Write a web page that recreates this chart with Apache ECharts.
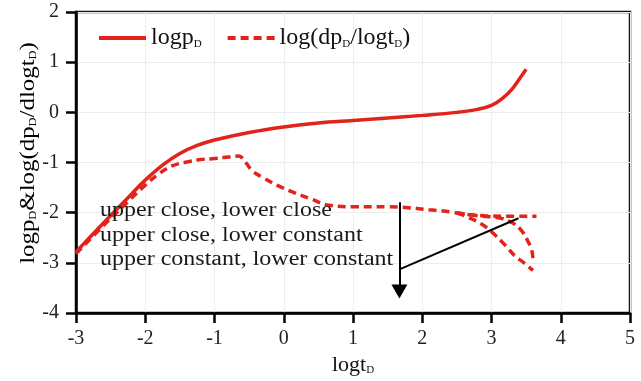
<!DOCTYPE html>
<html>
<head>
<meta charset="utf-8">
<script src="https://cdn.jsdelivr.net/npm/echarts@6/dist/echarts.min.js"></script>
<style>
  html, body { margin: 0; padding: 0; background: #fff; }
  #chart { width: 641px; height: 381px; }
</style>
</head>
<body>
<div id="chart"></div>
<script>
// logpD curve
var pX = [-3, -2.6, -2.2, -2, -1.75, -1.5, -1.25, -1, -0.5, 0, 0.5, 1, 1.5, 2, 2.5, 2.8, 3.0, 3.15, 3.3, 3.42, 3.5];
var pY = [-2.78, -2.2, -1.63, -1.35, -1.05, -0.82, -0.66, -0.55, -0.4, -0.29, -0.21, -0.16, -0.11, -0.06, 0.0, 0.06, 0.14, 0.27, 0.47, 0.7, 0.86];

// log(dpD/logtD) - common part + flat branch
var dX = [-3, -2.6, -2.25, -2.0, -1.8, -1.6, -1.4, -1.2, -1.0, -0.8, -0.65, -0.55, -0.45, -0.3, -0.1, 0.15, 0.4, 0.65, 1.0, 1.5, 1.8, 2.1, 2.4, 2.6, 2.9, 3.2, 3.65];
var dY = [-2.82, -2.25, -1.78, -1.45, -1.22, -1.06, -0.99, -0.94, -0.92, -0.89, -0.87, -1.0, -1.17, -1.3, -1.45, -1.6, -1.73, -1.85, -1.88, -1.88, -1.9, -1.94, -1.98, -2.03, -2.06, -2.07, -2.07];
// branch (middle)
var bX = [2.5, 2.8, 3.1, 3.3, 3.43, 3.52, 3.58, 3.6];
var bY = [-2.0, -2.06, -2.1, -2.2, -2.35, -2.55, -2.75, -2.92];
// branch (lowest)
var cX = [2.5, 2.66, 2.85, 3.0, 3.2, 3.33, 3.47, 3.6];
var cY = [-2.0, -2.09, -2.22, -2.38, -2.65, -2.85, -3.0, -3.15];

// annotation lines (data coords)
var arrowFrom = [1.67, -1.79];
var arrowTo = [1.67, -3.57];
var slantFrom = [1.67, -3.13];
var slantTo = [3.39, -2.11];

var notes = ['upper close, lower close', 'upper close, lower constant', 'upper constant, lower constant'];

var red = '#e1231c';
var serif = '"Liberation Serif", "Times New Roman", serif';

function pairs(xs, ys) {
  return xs.map(function (x, i) { return [x, ys[i]]; });
}

var chart = echarts.init(document.getElementById('chart'));

var sub = { fontSize: 11, fontFamily: serif, color: '#111', verticalAlign: 'bottom' };
var main = { fontSize: 24, fontFamily: serif, color: '#111' };
var nameMain = { fontSize: 22, fontFamily: serif, color: '#111' };
var nameSub = { fontSize: 11, fontFamily: serif, color: '#111', verticalAlign: 'bottom' };

var option = {
  animation: false,
  backgroundColor: '#fff',
  grid: {
    left: 76, right: 11, top: 12, bottom: 66,
    show: true, borderColor: '#111', borderWidth: 2.5
  },
  legend: {
    left: 92, top: 21,
    itemWidth: 47, itemHeight: 14, itemGap: 24,
    itemStyle: { opacity: 0, borderWidth: 0 },
    lineStyle: { width: 4 },
    data: ['logpD', 'log(dpD/logtD)'],
    formatter: function (name) {
      if (name === 'logpD') return '{a|logp}{s|D}';
      return '{a|log(dp}{s|D}{a|/logt}{s|D}{a|)}';
    },
    textStyle: { rich: { a: main, s: sub } }
  },
  xAxis: {
    type: 'value', min: -3, max: 5, interval: 1,
    name: '{a|logt}{s|D}',
    nameLocation: 'middle', nameGap: 31,
    nameTextStyle: { rich: { a: nameMain, s: nameSub } },
    axisLine: { show: true, onZero: false, lineStyle: { color: '#000', width: 2.5 } },
    axisTick: { show: true, length: 10, lineStyle: { color: '#000', width: 2.5 } },
    axisLabel: { margin: 16, fontSize: 20, fontFamily: serif, color: '#222' },
    splitLine: { show: true, lineStyle: { color: '#ededed', width: 1 } }
  },
  yAxis: {
    type: 'value', min: -4, max: 2, interval: 1,
    axisLine: { show: true, onZero: false, lineStyle: { color: '#000', width: 2.5 } },
    axisTick: { show: true, length: 10, lineStyle: { color: '#000', width: 2.5 } },
    axisLabel: { margin: 17, fontSize: 20, fontFamily: serif, color: '#222' },
    splitLine: { show: true, lineStyle: { color: '#ededed', width: 1 } }
  },
  series: [
    {
      name: 'logpD', type: 'line', smooth: 0.4, symbol: 'none',
      lineStyle: { color: red, width: 3.5 }, itemStyle: { color: red },
      data: pairs(pX, pY), z: 3
    },
    {
      name: 'log(dpD/logtD)', type: 'line', smooth: 0.4, symbol: 'none',
      lineStyle: { color: red, width: 3.5, type: [8, 5] }, itemStyle: { color: red },
      data: pairs(dX, dY)
    },
    {
      name: 'log(dpD/logtD)', type: 'line', smooth: 0.4, symbol: 'none',
      lineStyle: { color: red, width: 3.5, type: [8, 5] }, itemStyle: { color: red },
      data: pairs(bX, bY)
    },
    {
      name: 'log(dpD/logtD)', type: 'line', smooth: 0.4, symbol: 'none',
      lineStyle: { color: red, width: 3.5, type: [8, 5] }, itemStyle: { color: red },
      data: pairs(cX, cY)
    },
    {
      name: 'notes', type: 'line', data: [], symbol: 'none',
      markLine: {
        silent: true, symbol: 'none', label: { show: false },
        lineStyle: { color: '#000', width: 2, type: 'solid' },
        data: [
          [{ coord: arrowFrom, symbol: 'none' }, { coord: arrowTo, symbol: 'triangle', symbolSize: [16, 14] }],
          [{ coord: slantFrom, symbol: 'none' }, { coord: slantTo, symbol: 'none' }]
        ]
      }
    }
  ],
  graphic: notes.map(function (t, i) {
    return {
      type: 'text', left: 100, top: 201 + i * 24.6,
      scaleX: 1.2, originX: 100,
      style: { text: t, font: '20px ' + serif, fill: '#1a1a1a' },
      z: 10
    };
  }).concat([{
    // y axis title, stretched like the original
    type: 'text', x: 28, y: 153, rotation: Math.PI / 2, scaleX: 1.13,
    style: {
      text: '{a|logp}{s|D}{a|&log(dp}{s|D}{a|/dlogt}{s|D}{a|)}',
      align: 'center', verticalAlign: 'middle',
      rich: { a: nameMain, s: nameSub }
    },
    z: 10
  }])
};

chart.setOption(option);
</script>
</body>
</html>
